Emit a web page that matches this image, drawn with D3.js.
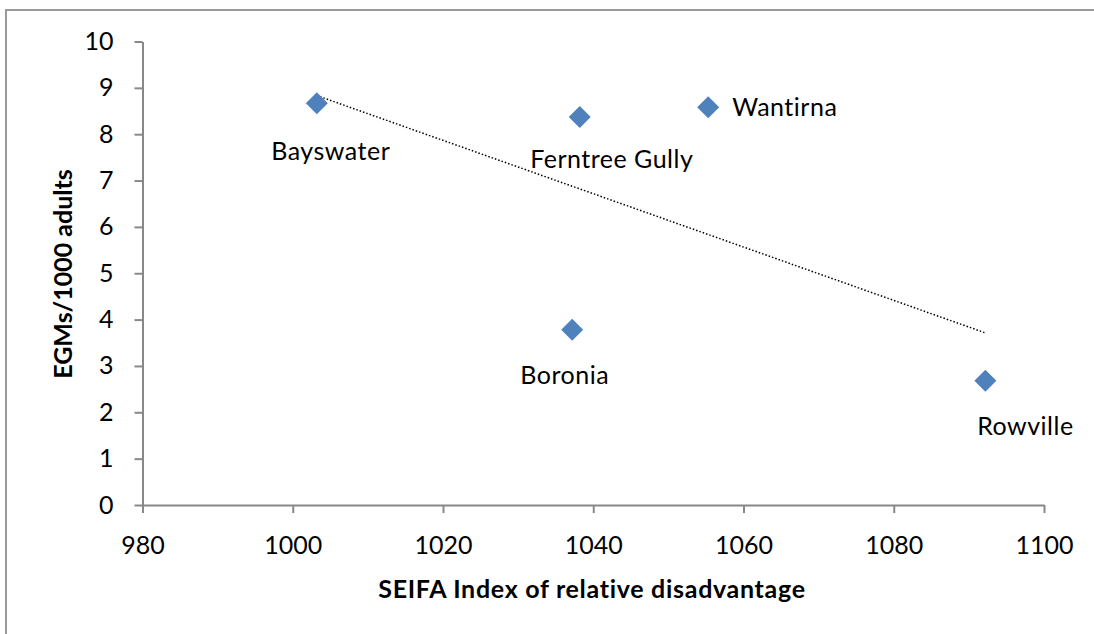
<!DOCTYPE html>
<html lang="en">
<head>
    <meta charset="UTF-8">
    <title>EGMs vs SEIFA</title>
    <script src="https://d3js.org/d3.v7.min.js"></script>
    <style>
        body { margin: 0; background: #fff; font-family: Lato, "Open Sans", sans-serif; }
        .axis path, .axis line { stroke: #888; stroke-width: 2; }
        .axis text { font-size: 25px; fill: #000; font-family: Lato, "Open Sans", sans-serif; }
        .title { font-size: 25px; font-weight: bold; }
        .lbl { font-size: 25px; letter-spacing: 0.5px; }
    </style>
</head>
<body>
    <svg id="chart" width="1094" height="634"></svg>
    <script>
        // data
        const suburbs = ["Bayswater", "Boronia", "Ferntree Gully", "Wantirna", "Rowville"];
        const seifa = [1003.2, 1037.2, 1038.2, 1055.3, 1092.2];
        const egms = [8.67, 3.78, 8.37, 8.58, 2.68];
        const xTicks = [980, 1000, 1020, 1040, 1060, 1080, 1100];
        const yTicks = [0, 1, 2, 3, 4, 5, 6, 7, 8, 9, 10];

        // label offsets relative to the point [dx, dy, anchor]
        const labelPos = {
            "Bayswater": [14, 57, "middle"],
            "Boronia": [-7.5, 54, "middle"],
            "Ferntree Gully": [32, 51, "middle"],
            "Wantirna": [24, 9, "start"],
            "Rowville": [40, 54, "middle"]
        };

        const svg = d3.select("#chart");

        // outer frame
        svg.append("rect")
            .attr("x", 6).attr("y", 10)
            .attr("width", 1100).attr("height", 640)
            .attr("fill", "none")
            .attr("stroke", "#999")
            .attr("stroke-width", 2);

        const x = d3.scaleLinear().domain([980, 1100]).range([142.5, 1044]);
        const y = d3.scaleLinear().domain([0, 10]).range([505, 41.5]);

        svg.append("g")
            .attr("class", "axis")
            .attr("transform", "translate(0,505)")
            .call(d3.axisBottom(x).tickValues(xTicks).tickFormat(d3.format("d"))
                .tickSize(8).tickPadding(23).tickSizeOuter(0));

        svg.append("g")
            .attr("class", "axis")
            .attr("transform", "translate(142.5,0)")
            .call(d3.axisLeft(y).tickValues(yTicks).tickSize(8).tickPadding(21).tickSizeOuter(0));

        // trendline (least squares, as Excel does)
        const mx = d3.mean(seifa), my = d3.mean(egms);
        const slope = d3.sum(seifa, (v, i) => (v - mx) * (egms[i] - my)) / d3.sum(seifa, v => (v - mx) * (v - mx));
        const ext = d3.extent(seifa);
        svg.append("line")
            .attr("x1", x(ext[0])).attr("y1", y(my + slope * (ext[0] - mx)))
            .attr("x2", x(ext[1])).attr("y2", y(my + slope * (ext[1] - mx)))
            .attr("stroke", "#000")
            .attr("stroke-width", 1.5)
            .attr("stroke-dasharray", "1.5,2");

        const pts = suburbs.map((s, i) => ({ name: s, x: seifa[i], y: egms[i] }));

        svg.selectAll(".pt")
            .data(pts)
            .enter().append("path")
            .attr("class", "pt")
            .attr("d", "M0,-11L11,0L0,11L-11,0Z")
            .attr("transform", d => `translate(${x(d.x)},${y(d.y)})`)
            .attr("fill", "#4F81BD");

        svg.selectAll(".lbl")
            .data(pts)
            .enter().append("text")
            .attr("class", "lbl")
            .attr("x", d => x(d.x) + labelPos[d.name][0])
            .attr("y", d => y(d.y) + labelPos[d.name][1])
            .attr("text-anchor", d => labelPos[d.name][2])
            .text(d => d.name);

        svg.append("text")
            .attr("class", "title")
            .attr("x", 592).attr("y", 598)
            .attr("text-anchor", "middle")
            .style("letter-spacing", "0.7px")
            .text("SEIFA Index of relative disadvantage");

        svg.append("text")
            .attr("class", "title")
            .attr("transform", "translate(72,274) rotate(-90)")
            .attr("text-anchor", "middle")
            .text("EGMs/1000 adults");
    </script>
</body>
</html>
